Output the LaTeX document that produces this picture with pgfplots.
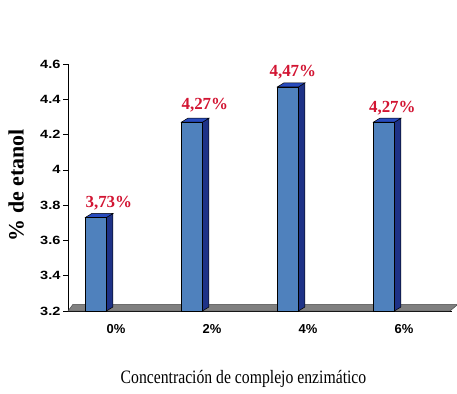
\documentclass[border=0pt]{standalone}
\usepackage{pgfplots}
\usepackage{pgfplotstable}
\pgfplotsset{compat=1.18}
\usepackage{fontspec}
\setmainfont{Liberation Serif}
\setsansfont{Liberation Sans}
\newfontfamily\narrowserif[FakeStretch=0.83]{Liberation Serif}
\newfontfamily\widesans[FakeStretch=1.22]{Liberation Sans}

\definecolor{frontblue}{RGB}{79,129,189}
\definecolor{sideblue}{RGB}{30,50,135}
\definecolor{topblue}{RGB}{40,75,190}
\definecolor{floorgray}{RGB}{128,128,128}
\definecolor{valred}{RGB}{210,20,50}

% ethanol content per enzyme concentration; lx/ly: label offsets (bp)
\pgfplotstableread{
x v    lx  ly
0 3.73 13  10
1 4.27 13  13
2 4.47 5   10
3 4.27 8.5 10
}\etanol

% depth of the bar blocks, in axis units
\def\dX{0.068}
\def\dY{0.0227}

% front, side and top faces of one bar block (row #1 of the table)
\newcommand\cubefaces[1]{%
  \pgfplotstablegetelem{#1}{x}\of\etanol \let\bx\pgfplotsretval
  \pgfplotstablegetelem{#1}{v}\of\etanol \let\bv\pgfplotsretval
  \pgfmathsetmacro\xa{\bx-0.10}%
  \pgfmathsetmacro\xb{\bx-0.10+\dX}%
  \pgfmathsetmacro\xc{\bx-0.32}%
  \pgfmathsetmacro\xd{\bx-0.32+\dX}%
  \pgfmathsetmacro\vt{\bv+\dY}%
  \pgfmathsetmacro\fb{3.2+\dY}%
  \edef\facecmds{%
    \noexpand\addplot[draw=black, line width=0.5bp, fill=sideblue]
      coordinates {(\xa,3.2) (\xb,\fb) (\xb,\vt) (\xa,\bv)} -- cycle;
    \noexpand\addplot[draw=black, line width=0.5bp, fill=topblue]
      coordinates {(\xc,\bv) (\xd,\vt) (\xb,\vt) (\xa,\bv)} -- cycle;
    \noexpand\addplot[draw=black, line width=0.5bp, fill=frontblue]
      coordinates {(\xc,3.2) (\xc,\bv) (\xa,\bv) (\xa,3.2)} -- cycle;}%
  \facecmds}

\begin{document}
\begin{tikzpicture}
\useasboundingbox (0,0) rectangle (457bp,394bp);
\begin{axis}[
  at={(68bp,83bp)}, anchor=south west,
  scale only axis, width=384bp, height=247bp,
  xmin=-0.5, xmax=3.5, ymin=3.2, ymax=4.6,
  clip=false,
  axis x line=bottom, axis y line=left,
  axis line style={-, black, line width=0.6bp},
  every outer x axis line/.append style={-},
  every outer y axis line/.append style={-},
  xtick={0,1,2,3},
  xticklabels={0\%,2\%,4\%,6\%},
  x tick style={draw=none},
  minor xtick={-0.5,0.5,1.5,2.5,3.5},
  minor x tick style={black, line width=0.6bp},
  minor tick length=4bp,
  ytick={3.2,3.4,...,4.6},
  y tick style={black, line width=0.6bp},
  major tick length=5bp,
  tick align=outside,
  /pgf/number format/assume math mode=true,
  xticklabel style={font=\sffamily\bfseries\fontsize{13}{13}\selectfont, text=black, yshift=-5bp},
  yticklabel style={font=\widesans\bfseries\fontsize{12}{12}\selectfont, text=black, xshift=1bp},
  ylabel={\% de etanol},
  ylabel style={at={(axis description cs:-0.135,0.51)}, anchor=center,
    font=\bfseries\fontsize{22}{22}\selectfont},
  xlabel={Concentración de complejo enzimático},
  xlabel style={at={(axis description cs:0.457,-0.2915)}, anchor=base,
    font=\narrowserif\fontsize{19}{19}\selectfont},
]
% floor of the plot area
\addplot[draw=black!70, line width=0.5bp, fill=floorgray]
  coordinates {(-0.5,3.2) (3.479,3.2) (3.5625,3.238) (-0.448,3.238)} -- cycle;

\pgfplotsinvokeforeach{0,...,3}{\cubefaces{#1}}

% value labels above the bars
\addplot[only marks, mark=none,
  point meta=y,
  visualization depends on={\thisrow{lx} \as \lx},
  visualization depends on={\thisrow{ly} \as \ly},
  nodes near coords={\pgfmathprintnumber[fixed, precision=2, fixed zerofill, use comma]{\pgfplotspointmeta}\%},
  nodes near coords style={anchor=base, text=valred, inner sep=0pt,
    font=\bfseries\fontsize{17}{17}\selectfont,
    xshift=\lx bp, yshift=\ly bp},
] table[x expr=\thisrow{x}-0.21, y=v] {\etanol};
\end{axis}
\end{tikzpicture}
\end{document}
